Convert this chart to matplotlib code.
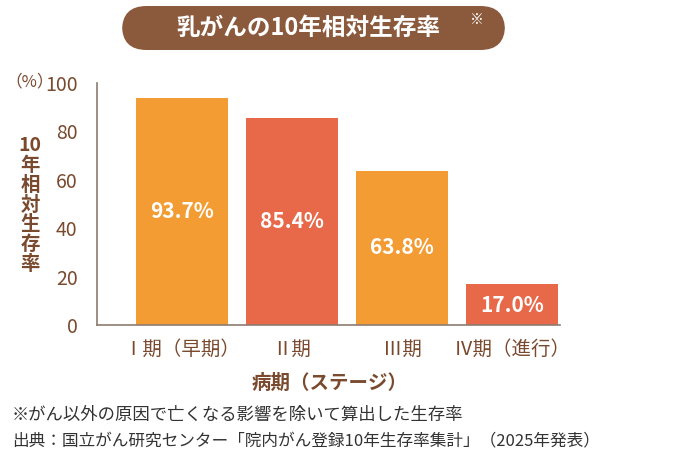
import matplotlib.pyplot as plt
from matplotlib.patches import FancyBboxPatch

plt.rcParams['font.family'] = ['Noto Sans CJK JP', 'DejaVu Sans']

stages = ["Ⅰ期（早期）", "Ⅱ期", "Ⅲ期", "Ⅳ期（進行）"]
rates = [93.7, 85.4, 63.8, 17.0]
colors = ["#F29C33", "#E8694A", "#F29C33", "#E8694A"]
yticks = [0, 20, 40, 60, 80, 100]

BROWN = "#7A4A2E"
W, H = 700, 466
fig = plt.figure(figsize=(7, 4.66), dpi=100)

def fx(px):
    return px / W

def fy(py):
    return 1 - py / H

ax = fig.add_axes([fx(97), fy(325), fx(560) - fx(97), fy(83) - fy(325)])
x = range(len(stages))
ax.bar(x, rates, width=0.83, color=colors, zorder=2)
for i, v in enumerate(rates):
    ax.text(i, v / 2 if v > 30 else v / 2 - 0.5, f"{v:.1f}%", color="white",
            ha="center", va="center", fontsize=15, fontweight="bold")
ax.set_xlim(-0.773, 3.436)
ax.set_ylim(0, 100)
ax.set_yticks(yticks)
ax.set_yticklabels([str(t) for t in yticks], fontsize=14, color=BROWN)
ax.set_xticks(list(x))
ax.set_xticklabels(stages, fontsize=14, color=BROWN)
ax.tick_params(axis="y", length=0, pad=14)
ax.tick_params(axis="x", length=0, pad=10)
for s in ["top", "right"]:
    ax.spines[s].set_visible(False)
for s in ["left", "bottom"]:
    ax.spines[s].set_color("#8C7B70")
    ax.spines[s].set_linewidth(1.2)

# title pill
pill = FancyBboxPatch((fx(122), fy(50)), fx(383), fy(6) - fy(50),
                      boxstyle="round,pad=0,rounding_size=0.035",
                      transform=fig.transFigure, facecolor="#8B5A3C",
                      edgecolor="none", mutation_aspect=1.5)
fig.patches.append(pill)
fig.text(fx(308), fy(28), "乳がんの10年相対生存率", color="white", fontsize=17,
         fontweight="bold", ha="center", va="center")
fig.text(fx(470), fy(20), "※", color="white", fontsize=10, ha="left", va="center")

fig.text(fx(30), fy(82), "（%）", color=BROWN, fontsize=12, ha="center", va="center")
fig.text(fx(30), fy(205), "10\n年\n相\n対\n生\n存\n率", color=BROWN, fontsize=14,
         fontweight="bold", ha="center", va="center", linespacing=1.05)
fig.text(fx(330), fy(383), "病期（ステージ）", color=BROWN, fontsize=14,
         fontweight="bold", ha="center", va="center")
fig.text(fx(12), fy(415), "※がん以外の原因で亡くなる影響を除いて算出した生存率",
         color="#333333", fontsize=12.5, ha="left", va="center")
fig.text(fx(12), fy(442), "出典：国立がん研究センター「院内がん登録10年生存率集計」（2025年発表）",
         color="#333333", fontsize=12, ha="left", va="center")

fig.savefig("out.png", dpi=100)
